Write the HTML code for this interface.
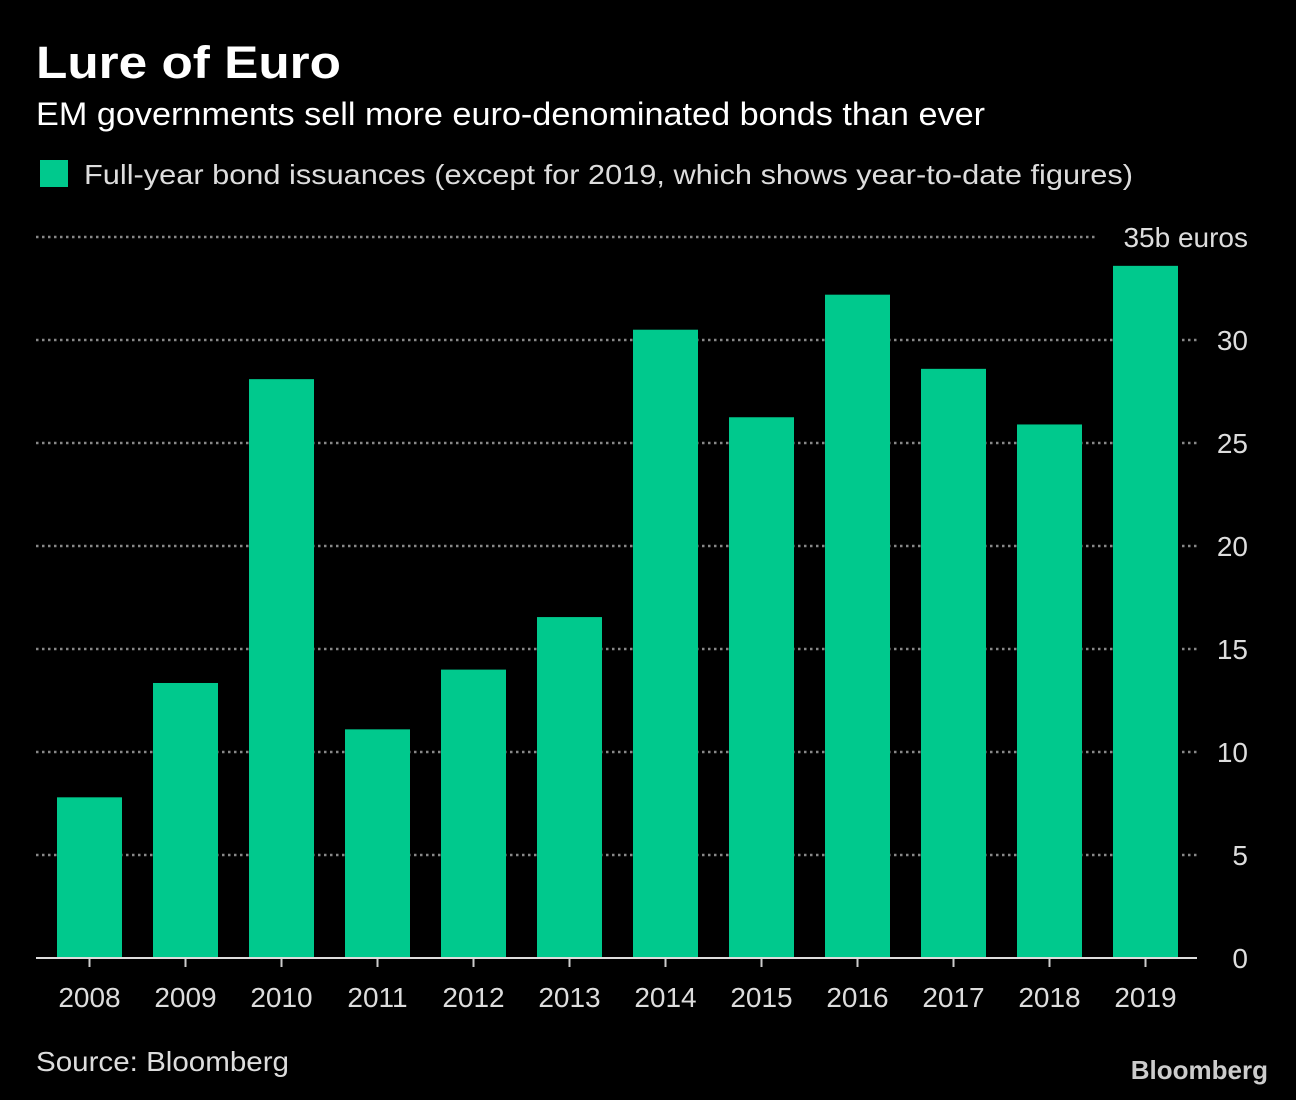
<!DOCTYPE html>
<html><head><meta charset="utf-8"><style>
body{margin:0;background:#000;width:1296px;height:1100px;overflow:hidden;font-family:"Liberation Sans",sans-serif;color:#fff}
</style></head><body>
<svg width="1296" height="1100" style="position:absolute;left:0;top:0">
<text x="36" y="78" font-size="45" font-weight="bold" fill="#fff" textLength="305" lengthAdjust="spacingAndGlyphs">Lure of Euro</text>
<text x="36" y="125" font-size="32" fill="#fff" textLength="949" lengthAdjust="spacingAndGlyphs">EM governments sell more euro-denominated bonds than ever</text>
<rect x="40" y="160" width="28" height="27" fill="#00c98d"/>
<text x="84" y="184" font-size="28" fill="#ddd" textLength="1049" lengthAdjust="spacingAndGlyphs">Full-year bond issuances (except for 2019, which shows year-to-date figures)</text>
<g id="grid"></g><g id="bars"></g><g id="axis"></g>
<text x="36" y="1071" font-size="28" fill="#ddd" textLength="253" lengthAdjust="spacingAndGlyphs">Source: Bloomberg</text>
<text x="1268" y="1079" font-size="26" font-weight="bold" fill="#ccc" text-anchor="end">Bloomberg</text>
</svg>
<script>
const categories=["2008","2009","2010","2011","2012","2013","2014","2015","2016","2017","2018","2019"];
const values=[7.8,13.35,28.1,11.1,14.0,16.55,30.5,26.25,32.2,28.6,25.9,33.6];
const ticks=[0,5,10,15,20,25,30,35];
const tickLabels=["0","5","10","15","20","25","30","35b euros"];
const NS="http://www.w3.org/2000/svg";
const y=v=>958-v*(721/35);
const x=i=>89.5+96*i;
function mk(t,a,p){const e=document.createElementNS(NS,t);for(const k in a)e.setAttribute(k,a[k]);p.appendChild(e);return e;}
const grid=document.getElementById('grid'),bars=document.getElementById('bars'),axis=document.getElementById('axis');
ticks.forEach((t,i)=>{
 if(t>0){const l=mk('line',{x1:36,x2:i==ticks.length-1?1097:1197,y1:y(t),y2:y(t),stroke:'#888','stroke-width':2.5,'stroke-dasharray':'2.5 3.5'},grid);
 
 }
 const tx=mk('text',{x:1248,y:y(t)+10,'font-size':28,fill:'#ddd','text-anchor':'end'},axis);
 tx.textContent=tickLabels[i];
 
 
});
values.forEach((v,i)=>{
 const r=mk('rect',{x:x(i)-32.5,y:y(v),width:65,height:958-y(v),fill:'#00c98d'},bars);
 
 
 const tk=mk('line',{x1:x(i),x2:x(i),y1:958,y2:967,stroke:'#ccc','stroke-width':2},axis);
 
 
 const tx=mk('text',{x:x(i),y:1007,'font-size':28,fill:'#ddd','text-anchor':'middle'},axis);
 tx.textContent=categories[i];
 
 
});
ticks.forEach((t,i)=>{if(t>0&&i<ticks.length-1){mk('rect',{x:1178,y:y(t)-3,width:2,height:6,fill:'#000'},grid);}});
const base=mk('line',{x1:36,x2:1197,y1:958,y2:958,stroke:'#ddd','stroke-width':2},axis);


</script>
</body></html>
